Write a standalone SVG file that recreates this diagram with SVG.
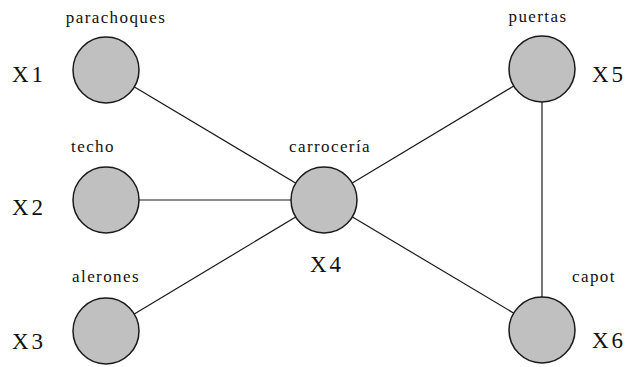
<svg xmlns="http://www.w3.org/2000/svg" width="629" height="367" viewBox="0 0 629 367">
<style>
.node{fill:#c0c0c0;stroke:#1a1a1a;stroke-width:1.5}
.edge{stroke:#1a1a1a;stroke-width:1.2;fill:none}
.lbl{font-family:"Liberation Serif","Times New Roman",serif;font-size:17px;letter-spacing:1.4px;fill:#111;text-anchor:middle}
.var{font-family:"Liberation Serif","Times New Roman",serif;font-size:23px;letter-spacing:3px;fill:#111}
</style>
<rect width="629" height="367" fill="#ffffff"/>
<g id="connectors">
<line class="edge" x1="106" y1="70" x2="324" y2="200"/>
<line class="edge" x1="106" y1="200" x2="324" y2="200"/>
<line class="edge" x1="106" y1="331" x2="324" y2="200"/>
<line class="edge" x1="324" y1="200" x2="542" y2="69"/>
<line class="edge" x1="324" y1="200" x2="542" y2="330"/>
<line class="edge" x1="542" y1="69" x2="542" y2="330"/>
</g>
<g id="x1">
<circle class="node" cx="106" cy="70" r="33"/>
<text class="lbl" x="116" y="23">parachoques</text>
<text class="var" x="12" y="82">X1</text>
</g>
<g id="x2">
<circle class="node" cx="106" cy="200" r="33"/>
<text class="lbl" x="93" y="152">techo</text>
<text class="var" x="12" y="215">X2</text>
</g>
<g id="x3">
<circle class="node" cx="106" cy="331" r="33"/>
<text class="lbl" x="106" y="282">alerones</text>
<text class="var" x="12" y="349">X3</text>
</g>
<g id="x4">
<circle class="node" cx="324" cy="200" r="33"/>
<text class="lbl" x="330" y="152">carrocería</text>
<text class="var" x="310" y="272">X4</text>
</g>
<g id="x5">
<circle class="node" cx="542" cy="69" r="33"/>
<text class="lbl" x="538" y="22">puertas</text>
<text class="var" x="592" y="82">X5</text>
</g>
<g id="x6">
<circle class="node" cx="542" cy="330" r="33"/>
<text class="lbl" x="594" y="282">capot</text>
<text class="var" x="592" y="348">X6</text>
</g>
</svg>
